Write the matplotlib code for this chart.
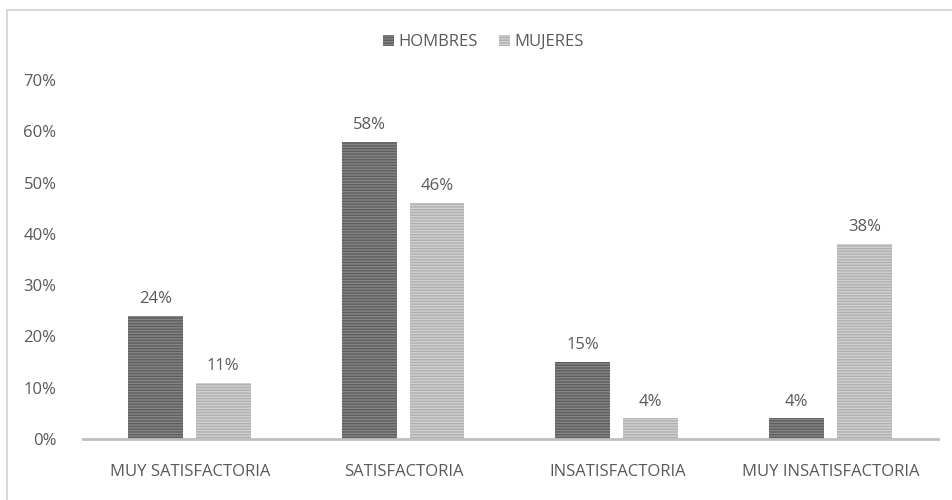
import numpy as np
import matplotlib.pyplot as plt
from matplotlib.patches import Rectangle
from matplotlib.ticker import FuncFormatter

categories = ["MUY SATISFACTORIA", "SATISFACTORIA", "INSATISFACTORIA", "MUY INSATISFACTORIA"]
hombres = [0.24, 0.58, 0.15, 0.04]
mujeres = [0.11, 0.46, 0.04, 0.38]

plt.rcParams['font.family'] = ['Open Sans', 'DejaVu Sans']
txt = '#595959'

fig = plt.figure(figsize=(9.53, 5.0), dpi=100)
ax = fig.add_axes([83/953, 61/500, 855/953, 359/500])

x = np.arange(len(categories))
w = 0.257
b1 = ax.bar(x - 0.161, hombres, w, color='#868686', edgecolor='#5e5e5e',
	hatch='------', linewidth=0, label='HOMBRES')
b2 = ax.bar(x + 0.156, mujeres, w, color='#d0d0d0', edgecolor='#b0b0b0',
	hatch='------', linewidth=0, label='MUJERES')

for bars, vals in ((b1, hombres), (b2, mujeres)):
	for r, v in zip(bars, vals):
		ax.text(r.get_x() + r.get_width()/2, v + 0.017, '%d%%' % round(v*100),
			ha='center', va='bottom', fontsize=12, color=txt)

ax.set_xlim(-0.5, 3.5)
ax.set_ylim(0, 0.7)
ax.set_yticks(np.arange(0, 0.71, 0.1))
ax.yaxis.set_major_formatter(FuncFormatter(lambda v, p: '%d%%' % round(v*100)))
ax.set_xticks(x)
ax.set_xticklabels(categories)
ax.tick_params(axis='both', length=0, labelsize=12, labelcolor=txt)
ax.tick_params(axis='x', pad=18)
ax.tick_params(axis='y', pad=19)
for s in ('top', 'right', 'left'):
	ax.spines[s].set_visible(False)
ax.spines['bottom'].set_color('#bfbfbf')
ax.spines['bottom'].set_linewidth(2)

leg = fig.legend(loc='center', bbox_to_anchor=(0.507, 1 - 42/500), ncol=2, frameon=False,
	fontsize=12, handlelength=0.65, handleheight=0.65, columnspacing=1.3, handletextpad=0.25)
for t in leg.get_texts():
	t.set_color(txt)

fig.patches.append(Rectangle((7/953, -0.1), 1.2, 1.1 - 10/500, transform=fig.transFigure,
	fill=False, edgecolor='#d9d9d9', linewidth=1.5))

plt.savefig("out.png", dpi=100)
